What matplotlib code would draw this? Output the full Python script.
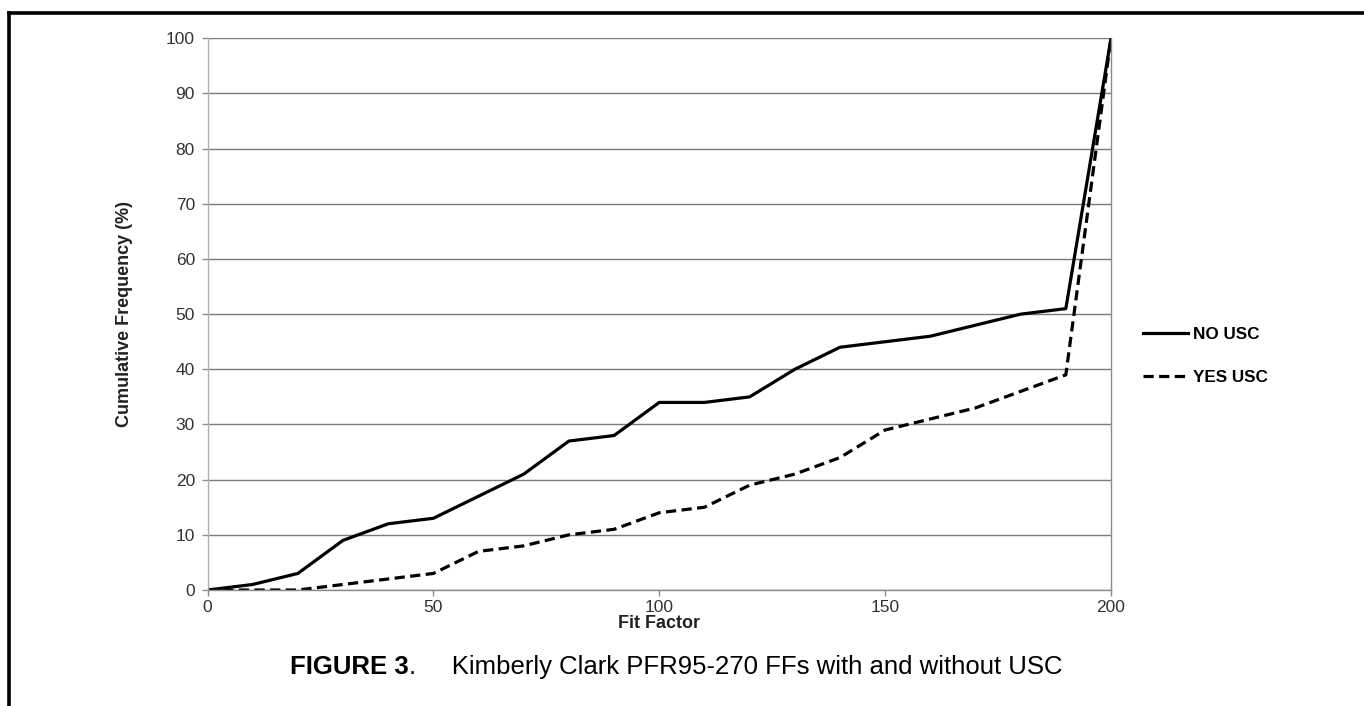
import matplotlib
matplotlib.use("Agg")
import matplotlib.pyplot as plt
from matplotlib.lines import Line2D

plt.rcParams['font.family'] = ['Liberation Sans', 'DejaVu Sans']

fit_factor = [0, 10, 20, 30, 40, 50, 60, 70, 80, 90, 100, 110, 120, 130, 140, 150, 160, 170, 180, 190, 200]
no_usc = [0, 1, 3, 9, 12, 13, 17, 21, 27, 28, 34, 34, 35, 40, 44, 45, 46, 48, 50, 51, 100]
yes_usc = [0, 0, 0, 1, 2, 3, 7, 8, 10, 11, 14, 15, 19, 21, 24, 29, 31, 33, 36, 39, 100]
x_ticks = [0, 50, 100, 150, 200]
y_ticks = [0, 10, 20, 30, 40, 50, 60, 70, 80, 90, 100]

W, H = 1364, 706
fig = plt.figure(figsize=(W / 100, H / 100), dpi=100)
ax = fig.add_axes([207.5 / W, 1 - 590 / H, (1111 - 207.5) / W, (590 - 38.3) / H])

ax.plot(fit_factor, no_usc, color='black', lw=2.3, label='NO USC')
ax.plot(fit_factor, yes_usc, color='black', lw=2.3, linestyle=(0, (3.2, 1.7)), label='YES USC')

ax.set_xlim(0, 200)
ax.set_ylim(0, 100)
ax.set_xticks(x_ticks)
ax.set_yticks(y_ticks)
ax.grid(axis='y', color='#7a7a7a', lw=1.0)
ax.set_axisbelow(True)
for side in ['left', 'bottom', 'right']:
    ax.spines[side].set_color('#8c8c8c')
    ax.spines[side].set_linewidth(1.0)
ax.spines['left'].set_color('#b0b0b0')
ax.spines['top'].set_visible(False)
ax.tick_params(axis='both', colors='#8c8c8c', length=4, width=1.0, labelcolor='#333333', labelsize=12.5)
ax.tick_params(axis='y', pad=5)
ax.tick_params(axis='x', pad=3)

ax.set_xlabel('Fit Factor', fontsize=13, fontweight='bold', color='#222222', labelpad=0)
ax.set_ylabel('Cumulative Frequency (%)', fontsize=13, fontweight='bold', color='#222222', labelpad=24)

fig.legend(loc='center left', bbox_to_anchor=(1128 / W, 1 - 356 / H), frameon=False,
           handlelength=2.6, handletextpad=0.3, labelspacing=1.65,
           prop={'weight': 'bold', 'size': 12.3})

cap_y = 1 - 667 / H
t1 = fig.text(290 / W, cap_y, 'FIGURE 3', fontsize=18.5, fontweight='bold', ha='left', va='center')
fig.canvas.draw()
bb = t1.get_window_extent()
fig.text(bb.x1 / W, cap_y, '.     Kimberly Clark PFR95-270 FFs with and without USC',
         fontsize=18.5, ha='left', va='center')

# frame lines (left and top)
fig.add_artist(Line2D([8.5 / W, 8.5 / W], [0, 1 - 12.5 / H], transform=fig.transFigure, color='black', lw=2.6))
fig.add_artist(Line2D([8.5 / W, 1], [1 - 12.5 / H, 1 - 12.5 / H], transform=fig.transFigure, color='black', lw=2.6))

fig.savefig('out.png', dpi=100)
